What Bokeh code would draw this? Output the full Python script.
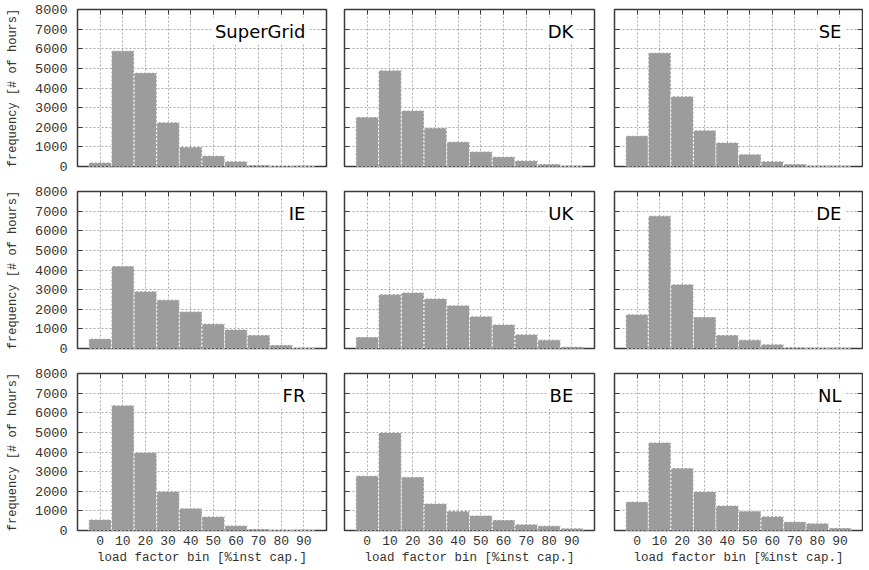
from bokeh.plotting import figure
from bokeh.models import (LinearAxis, FixedTicker, Range1d, ColumnDataSource,
                          Label, Grid)
from bokeh.layouts import gridplot
from bokeh.embed import file_html
from bokeh.resources import INLINE

# ---- data -------------------------------------------------------------
bins = [0, 10, 20, 30, 40, 50, 60, 70, 80, 90]
y_ticks = [0, 1000, 2000, 3000, 4000, 5000, 6000, 7000, 8000]

regions = ["SuperGrid", "DK", "SE", "IE", "UK", "DE", "FR", "BE", "NL"]

supergrid = [200, 5900, 4780, 2250, 1000, 550, 270, 80, 30, 0]
dk = [2520, 4900, 2850, 1970, 1260, 760, 500, 300, 130, 0]
se = [1570, 5800, 3580, 1850, 1220, 630, 270, 130, 0, 0]
ie = [500, 4200, 2920, 2480, 1880, 1260, 970, 690, 180, 0]
uk = [590, 2770, 2850, 2550, 2200, 1640, 1220, 720, 440, 90]
de = [1740, 6760, 3270, 1610, 690, 440, 220, 70, 0, 0]
fr = [560, 6380, 3990, 2000, 1140, 710, 250, 80, 20, 0]
be = [2790, 5000, 2730, 1380, 990, 770, 540, 320, 240, 120]
nl = [1470, 4490, 3180, 1990, 1270, 990, 720, 450, 370, 130]

series = [supergrid, dk, se, ie, uk, de, fr, be, nl]

x_label = "load factor bin [%inst cap.]"
y_label = "frequency [# of hours]"

# ---- styling ----------------------------------------------------------
MONO = "Liberation Mono"
SANS = "DejaVu Sans"
TXT = "#333333"
FRAME = "#3a3a3a"

frame_w = [249, 250, 248]
border_l = [77, 16, 18]
border_r = [2, 2, 1]
frame_h = 157
border_t = [9, 15, 15]
border_b = [10, 10, 38]


def hidden_axis(ticks, tick_in=5):
    ax = LinearAxis(ticker=FixedTicker(ticks=ticks))
    ax.major_label_text_font_size = "1px"
    ax.major_label_text_color = None
    ax.major_label_standoff = 0
    ax.major_tick_in = tick_in
    ax.major_tick_out = 0
    ax.minor_tick_in = 0
    ax.minor_tick_out = 0
    ax.axis_line_color = None
    ax.major_tick_line_color = FRAME if tick_in else None
    ax.major_tick_line_width = 1
    return ax


def shown_axis(ticks, label, tick_in=5):
    ax = LinearAxis(ticker=FixedTicker(ticks=ticks), axis_label=label)
    ax.major_label_text_font = MONO
    ax.major_label_text_font_size = "13px"
    ax.major_label_text_color = TXT
    ax.major_tick_in = tick_in
    ax.major_tick_out = 0
    ax.minor_tick_in = 0
    ax.minor_tick_out = 0
    ax.axis_line_color = None
    ax.major_tick_line_color = FRAME if tick_in else None
    ax.axis_label_text_font = MONO
    ax.axis_label_text_font_size = "13px"
    ax.axis_label_text_font_style = "normal"
    ax.axis_label_text_color = TXT
    return ax


rows = []
for r in range(3):
    row = []
    for c in range(3):
        i = r * 3 + c
        p = figure(frame_width=frame_w[c], frame_height=frame_h,
                   x_range=Range1d(-10, 100), y_range=Range1d(0, 8000),
                   x_axis_type=None, y_axis_type=None,
                   output_backend="svg", toolbar_location=None,
                   min_border_left=border_l[c], min_border_right=border_r[c],
                   min_border_top=border_t[r], min_border_bottom=border_b[r])
        p.outline_line_color = FRAME
        p.outline_line_width = 1.5
        p.outline_line_alpha = 1.0
        p.background_fill_color = "white"
        p.border_fill_color = "white"

        # grids
        p.add_layout(Grid(dimension=0, ticker=FixedTicker(ticks=bins),
                          grid_line_color="#aaaaaa", grid_line_dash="2 2",
                          grid_line_width=1))
        p.add_layout(Grid(dimension=1, ticker=FixedTicker(ticks=y_ticks),
                          grid_line_color="#aaaaaa", grid_line_dash="2 2",
                          grid_line_width=1))

        # axes
        if c == 0:
            ya = shown_axis(y_ticks, y_label)
            ya.major_label_standoff = 10
            ya.axis_label_standoff = 12
            ya.major_label_text_font_size = "13.5px"
            ya.axis_label_text_font_size = "12px"
        else:
            ya = hidden_axis(y_ticks)
        p.add_layout(ya, "left")

        if r == 2:
            xa = shown_axis(bins, x_label, tick_in=0)
            xa.major_label_standoff = 5
            xa.axis_label_standoff = 3
            xa.axis_label_text_font_size = "12.5px"
        else:
            xa = hidden_axis(bins, tick_in=0)
        p.add_layout(xa, "below")

        p.add_layout(hidden_axis(bins), "above")
        p.add_layout(hidden_axis(y_ticks), "right")

        src = ColumnDataSource(data=dict(x=bins, top=series[i]))
        p.vbar(x="x", top="top", bottom=0, width=10, source=src,
               fill_color="#9c9c9c", line_color="white",
               line_dash="2 2", line_width=1)

        p.add_layout(Label(x=92, y=6900, text=regions[i],
                           text_align="right", text_baseline="middle",
                           text_font=SANS, text_font_size="18px",
                           text_color="black",
                           background_fill_color="white",
                           padding=3))
        row.append(p)
    rows.append(row)

grid = gridplot(rows, toolbar_location=None)

open("out.html", "w").write(file_html(grid, INLINE))
